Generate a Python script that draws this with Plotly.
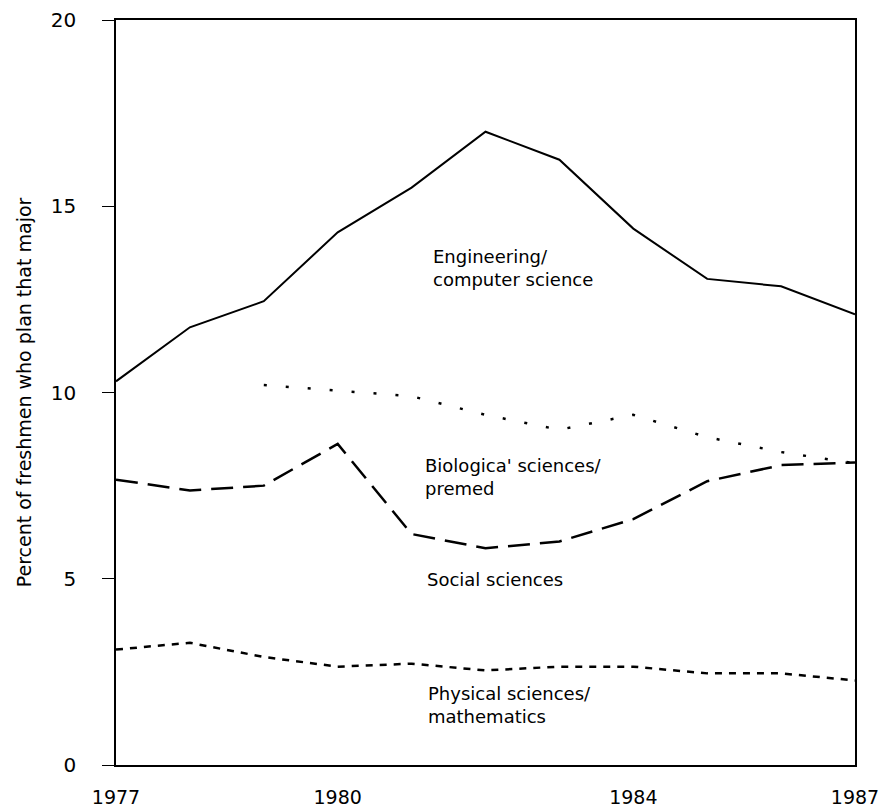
import plotly.graph_objects as go

years = [1977, 1978, 1979, 1980, 1981, 1982, 1983, 1984, 1985, 1986, 1987]
engineering = [10.3, 11.75, 12.45, 14.3, 15.5, 17.0, 16.25, 14.4, 13.05, 12.85, 12.1]
biological = [None, None, 10.2, 10.05, 9.9, 9.4, 9.0, 9.4, 8.8, 8.4, 8.1]
social = [7.66, 7.37, 7.5, 8.62, 6.2, 5.82, 6.0, 6.6, 7.62, 8.05, 8.12]
physical = [3.1, 3.28, 2.9, 2.64, 2.72, 2.54, 2.64, 2.64, 2.46, 2.46, 2.27]

x_ticks = [1977, 1980, 1984, 1987]
x_tick_labels = ["1977", "1980", "1984", "1987"]
y_ticks = [0, 5, 10, 15, 20]

labels = [
    ("Engineering/<br>computer science", 1981.26, 13.35),
    ("Biologica' sciences/<br>premed", 1981.15, 7.74),
    ("Social sciences", 1981.18, 4.99),
    ("Physical sciences/<br>mathematics", 1981.2, 1.6),
]

FONT = "DejaVu Sans"

fig = go.Figure()
fig.add_trace(go.Scatter(x=years, y=engineering, mode="lines",
                         line=dict(color="black", width=2), name="Engineering"))
fig.add_trace(go.Scatter(x=years, y=biological, mode="lines",
                         line=dict(color="black", width=2.5, dash="3px,19px"), name="Biological"))
fig.add_trace(go.Scatter(x=years, y=social, mode="lines",
                         line=dict(color="black", width=2.5, dash="22px,10px"), name="Social"))
fig.add_trace(go.Scatter(x=years, y=physical, mode="lines",
                         line=dict(color="black", width=2.5, dash="7px,7px"), name="Physical"))

for text, lx, ly in labels:
    fig.add_annotation(x=lx, y=ly, text=text, showarrow=False, xanchor="left", yanchor="middle",
                       align="left", font=dict(family=FONT, size=18, color="black"))

fig.update_layout(
    width=884, height=803,
    margin=dict(l=108, r=37, t=12, b=46, autoexpand=False),
    paper_bgcolor="white", plot_bgcolor="white",
    showlegend=False,
    font=dict(family=FONT, color="black"),
)
fig.update_xaxes(range=[1977, 1987], tickvals=x_ticks, ticktext=x_tick_labels,
                 showgrid=False, zeroline=False, showline=True, mirror=True,
                 linecolor="black", linewidth=1.5, ticks="", ticklabelstandoff=14,
                 ticklabeloverflow="allow",
                 tickfont=dict(family=FONT, size=19, color="black"))
fig.update_yaxes(range=[0, 20], tickvals=y_ticks, showgrid=False, zeroline=False,
                 showline=True, mirror=True, linecolor="black", linewidth=1.5,
                 ticks="outside", ticklen=12, tickwidth=1.2, tickcolor="black",
                 ticklabelstandoff=22, ticklabeloverflow="allow",
                 tickfont=dict(family=FONT, size=20, color="black"),
                 title=dict(text="Percent of freshmen who plan that major",
                            font=dict(family=FONT, size=19, color="black"), standoff=14))

fig.write_html("out.html")
